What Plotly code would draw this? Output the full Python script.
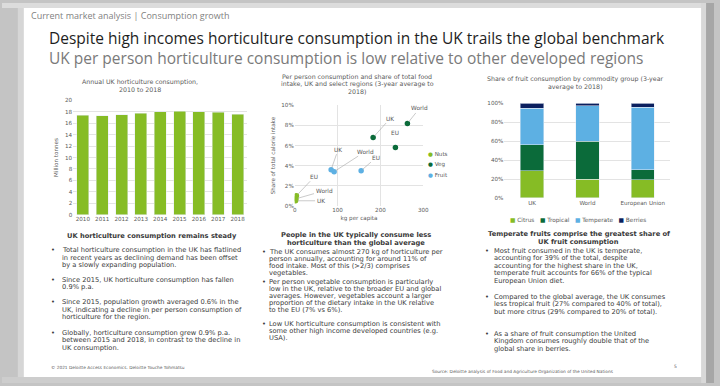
import plotly.graph_objects as go

# ---------------- data ----------------
years = ["2010", "2011", "2012", "2013", "2014", "2015", "2016", "2017", "2018"]
uk_consumption_mt = [17.4, 17.3, 17.5, 17.8, 18.0, 18.1, 18.0, 17.9, 17.6]

regions = ["UK", "World", "EU"]
nuts_kg = [2, 3, 4]
nuts_share = [0.005, 0.007, 0.010]
veg_kg = [183, 263, 235]
veg_share = [0.068, 0.082, 0.058]
fruit_kg = [85, 92, 155]
fruit_share = [0.036, 0.034, 0.035]

fruit_regions = ["UK", "World", "European Union"]
fruit_groups = ["Citrus", "Tropical", "Temperate", "Berries"]
citrus = [0.29, 0.20, 0.19]
tropical = [0.27, 0.40, 0.11]
temperate = [0.39, 0.375, 0.66]
berries = [0.05, 0.025, 0.04]

# ---------------- styling ----------------
W, H = 720, 386
GREEN = "#86BC25"
DKGREEN = "#0B6B3A"
BLUE = "#5DB0E3"
NAVY = "#0B1F5E"
TXT = "#3A3A3A"
AX = "#595959"
GRID = "#E3E3E3"
BODY = "DejaVu Sans"
BODY_SIZE = 6.7


def px(x):
    return x / W


def py(y):
    return 1 - y / H


annotations = []
shapes = []


def text(x, y, s, size=BODY_SIZE, color=TXT, anchor="left", family=BODY, align="left"):
    annotations.append(dict(x=px(x), y=py(y), xref="paper", yref="paper", text=s,
                            showarrow=False, xanchor=anchor, yanchor="middle", align=align,
                            font=dict(family=family, size=size, color=color)))


def block(x, y0, pitch, lines, **kw):
    for i, ln in enumerate(lines):
        text(x, y0 + i * pitch, ln, **kw)


fig = go.Figure()

# --- slide frame ---
shapes += [
    dict(type="rect", xref="paper", yref="paper", x0=0, x1=px(22), y0=0, y1=1,
         fillcolor="#C4C4C4", line_width=0, layer="below"),
    dict(type="rect", xref="paper", yref="paper", x0=px(16), x1=px(22), y0=0, y1=1,
         fillcolor="#D6D6D6", line_width=0, layer="below"),
    dict(type="rect", xref="paper", yref="paper", x0=0, x1=1, y0=py(5), y1=1,
         fillcolor="#DCDCDC", line_width=0, layer="below"),
    dict(type="rect", xref="paper", yref="paper", x0=0, x1=1, y0=0, y1=py(380),
         fillcolor="#CDCDCD", line_width=0, layer="below"),
    dict(type="rect", xref="paper", yref="paper", x0=px(707), x1=px(712), y0=0, y1=1,
         fillcolor="#D8D8D8", line_width=0, layer="below"),
    dict(type="rect", xref="paper", yref="paper", x0=px(712), x1=1, y0=0, y1=1,
         fillcolor="#A6A6A6", line_width=0, layer="below"),
    dict(type="rect", xref="paper", yref="paper", x0=px(22), x1=px(707), y0=py(380), y1=py(5),
         fillcolor="white", line_width=0, layer="below"),
]

# --- header & titles ---
text(27, 13, "Current market analysis | Consumption growth", size=9, color="#7F7F7F", family="Open Sans")
text(46, 45.5,
     "<span style='color:#1E1E1E'>Despite high incomes horticulture consumption in the UK trails the global benchmark</span>"
     "<br><span style='color:#7A7A7A'>UK per person horticulture consumption is low relative to other developed regions</span>",
     size=15.5, family="Open Sans")

# ---------------- chart 1: annual consumption ----------------
fig.add_trace(go.Bar(x=years, y=uk_consumption_mt, marker_color=GREEN, xaxis="x", yaxis="y",
                     width=0.62, hoverinfo="x+y"))
block(140, 80, 8, ["Annual UK horticulture consumption,", "2010 to 2018"], size=6.3, color=AX, anchor="center")

# ---------------- chart 2: per person scatter ----------------
for name, xs, ys, col in [("Nuts", nuts_kg, nuts_share, GREEN),
                          ("Veg", veg_kg, veg_share, DKGREEN),
                          ("Fruit", fruit_kg, fruit_share, BLUE)]:
    fig.add_trace(go.Scatter(x=xs, y=ys, mode="markers", name=name, text=regions,
                             marker=dict(color=col, size=5.5), xaxis="x2", yaxis="y2"))

# label offsets (px) and whether a leader line is drawn
label_offsets = {
    ("Nuts", "UK"): (25, 0, True), ("Nuts", "World"): (28, -8, True), ("Nuts", "EU"): (18, -19, True),
    ("Veg", "UK"): (17, -19, True), ("Veg", "World"): (12, -15, True), ("Veg", "EU"): (0, -15, False),
    ("Fruit", "UK"): (7, -20, True), ("Fruit", "World"): (31, -20, True), ("Fruit", "EU"): (15, -13, True),
}
for name, xs, ys in [("Nuts", nuts_kg, nuts_share), ("Veg", veg_kg, veg_share),
                     ("Fruit", fruit_kg, fruit_share)]:
    for r, xv, yv in zip(regions, xs, ys):
        dx, dy, lead = label_offsets[(name, r)]
        annotations.append(dict(x=xv, y=yv, xref="x2", yref="y2", text=r, showarrow=True,
                                ax=dx, ay=dy, arrowhead=0, arrowwidth=0.6,
                                arrowcolor="#A6A6A6" if lead else "rgba(0,0,0,0)",
                                standoff=2, font=dict(family=BODY, size=5.8, color=AX)))

for i, (name, col) in enumerate([("Nuts", GREEN), ("Veg", DKGREEN), ("Fruit", BLUE)]):
    text(429, 153 + i * 11, f"<span style='color:{col}'>●</span> {name}", size=5.6, color=AX)

block(359, 75, 7.3, ["Per person consumption and share of total food",
                     "intake, UK and select regions (3-year average to", "2018)"],
      size=6.3, color=AX, anchor="center")

# ---------------- chart 3: fruit composition ----------------
for name, vals, col in zip(fruit_groups, [citrus, tropical, temperate, berries],
                           [GREEN, DKGREEN, BLUE, NAVY]):
    fig.add_trace(go.Bar(x=fruit_regions, y=vals, name=name, marker_color=col,
                         xaxis="x3", yaxis="y3", width=0.42))
leg = "   ".join(f"<span style='color:{c}'>■</span> {n}"
                  for n, c in zip(fruit_groups, [GREEN, DKGREEN, BLUE, NAVY]))
text(582, 221, leg, size=5.8, color=AX, anchor="center")
block(580, 77, 8, ["Share of fruit consumption by commodity group (3-year", "average to 2018)"],
      size=6.3, color=AX, anchor="center")

# ---------------- commentary ----------------
text(152, 237, "<b>UK horticulture consumption remains steady</b>", anchor="center")
col1 = [
    (251, ["Total horticulture consumption in the UK has flatlined",
           "in recent years as declining demand has been offset",
           "by a slowly expanding population."]),
    (281, ["Since 2015, UK horticulture consumption has fallen", "0.9% p.a."]),
    (304, ["Since 2015, population growth averaged 0.6% in the",
           "UK, indicating a decline in per person consumption of",
           "horticulture for the region."]),
    (335, ["Globally, horticulture consumption grew 0.9% p.a.",
           "between 2015 and 2018, in contrast to the decline in",
           "UK consumption."]),
]
for y0, lines in col1:
    text(48, y0, "•")
    block(59, y0, 7.6, lines)

block(358, 236, 8, ["<b>People in the UK typically consume less</b>",
                    "<b>horticulture than the global average</b>"], anchor="center")
col2 = [
    (252.5, ["The UK consumes almost 270 kg of horticulture per",
             "person annually, accounting for around 11% of",
             "food intake. Most of this (>2/3) comprises", "vegetables."]),
    (283, ["Per person vegetable consumption is particularly",
           "low in the UK, relative to the broader EU and global",
           "averages. However, vegetables account a larger",
           "proportion of the dietary intake in the UK relative",
           "to the EU (7% vs 6%)."]),
    (326, ["Low UK horticulture consumption is consistent with",
           "some other high income developed countries (e.g.", "USA)."]),
]
for y0, lines in col2:
    text(261, y0, "•")
    block(268, y0, 7.1, lines)

block(583, 234.5, 8, ["<b>Temperate fruits comprise the greatest share of</b>",
                      "<b>UK fruit consumption</b>"], anchor="center")
col3 = [
    (251.5, ["Most fruit consumed in the UK is temperate,",
             "accounting for 39% of the total, despite",
             "accounting for the highest share in the UK,",
             "temperate fruit accounts for 66% of the typical",
             "European Union diet."]),
    (298.5, ["Compared to the global average, the UK consumes",
             "less tropical fruit (27% compared to 40% of total),",
             "but more citrus (29% compared to 20% of total)."]),
    (336, ["As a share of fruit consumption the United",
           "Kingdom consumes roughly double that of the",
           "global share in berries."]),
]
for y0, lines in col3:
    text(486, y0, "•")
    block(495, y0, 7.6, lines)

# footer
text(48, 370, "© 2021 Deloitte Access Economics. Deloitte Touche Tohmatsu", size=4.3, color="#595959")
text(433, 374, "Source: Deloitte analysis of Food and Agriculture Organization of the United Nations",
     size=4.3, color="#595959")
text(681, 369, "5", size=4.5, color="#595959", anchor="center")

tick = dict(family=BODY, size=5.6, color=AX)
fig.update_layout(
    width=W, height=H, margin=dict(l=0, r=0, t=0, b=0),
    paper_bgcolor="#C4C4C4", plot_bgcolor="rgba(0,0,0,0)",
    showlegend=False, barmode="stack", bargap=0.3,
    shapes=shapes, annotations=annotations,
    xaxis=dict(domain=[px(72), px(248)], anchor="y", tickfont=tick, showgrid=False,
               ticks="", showline=False),
    yaxis=dict(domain=[py(215), py(99)], anchor="x", range=[0, 20], dtick=2, tickfont=tick,
               gridcolor=GRID, gridwidth=0.7, zeroline=False, ticks="",
               title=dict(text="Million tonnes", font=tick, standoff=6)),
    xaxis2=dict(domain=[px(296), px(426)], anchor="y2", range=[0, 300], dtick=100, tickfont=tick,
                gridcolor=GRID, gridwidth=0.7, zeroline=False, ticks="",
                title=dict(text="kg per capita", font=tick, standoff=3)),
    yaxis2=dict(domain=[py(206), py(104)], anchor="x2", range=[0, 0.10], dtick=0.02,
                tickformat=".0%", tickfont=tick, gridcolor=GRID, gridwidth=0.7, zeroline=False,
                ticks="", title=dict(text="Share of total calorie intake", font=tick, standoff=5)),
    xaxis3=dict(domain=[px(508), px(676)], anchor="y3", tickfont=tick, showgrid=False, ticks=""),
    yaxis3=dict(domain=[py(198), py(102)], anchor="x3", range=[0, 1], dtick=0.2, tickformat=".0%",
                tickfont=tick, gridcolor=GRID, gridwidth=0.7, zeroline=False, ticks=""),
)

fig.write_html("out.html")
